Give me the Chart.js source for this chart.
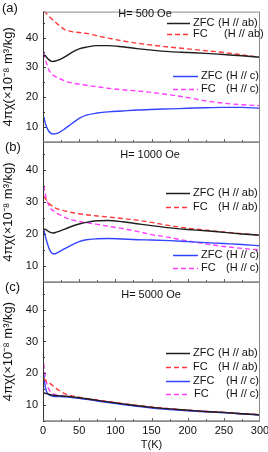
<!DOCTYPE html>
<html><head><meta charset="utf-8">
<script src="https://cdn.jsdelivr.net/npm/chart.js@4/dist/chart.umd.min.js"></script>
<style>
html,body{margin:0;padding:0;background:#fff;}
#wrap{position:relative;width:268px;height:452px;overflow:hidden;}
canvas{position:absolute;left:0;top:0;}
</style></head><body>
<div id="wrap">
<canvas id="ca" width="268" height="452"></canvas>
<canvas id="cb" width="268" height="452"></canvas>
<canvas id="cc" width="268" height="452"></canvas>
</div>
<script>
// ---- data ----
const temperatures = [1, 3, 5, 8, 11, 14, 18, 23, 30, 40, 50, 60, 75, 90, 110, 130, 150, 175, 200, 225, 250, 275, 300];
const yTicks = [10, 20, 30, 40];
const xTicks = [0, 50, 100, 150, 200, 250, 300];
const panelLabels = ['(a)', '(b)', '(c)'];
const fieldLabels = ['H= 500 Oe', 'H= 1000 Oe', 'H= 5000 Oe'];
const seriesModes = ['ZFC', 'FC', 'ZFC', 'FC'];
const seriesDirs = ['(H // ab)', '(H // ab)', '(H // c)', '(H // c)'];
const yTitle = '4\u03C0\u03C7(\u00D710\u207B\u2078 m\u00B3/kg)';
const xTitle = 'T(K)';

// panel (a) H = 500 Oe
const a_zfcAb = [33.8, 34.0, 33.4, 32.6, 32.1, 32.0, 32.2, 32.6, 33.5, 35.0, 36.2, 36.8, 37.3, 37.3, 36.9, 36.3, 35.8, 35.3, 35.0, 34.7, 34.3, 33.9, 33.4];
const a_fcAb  = [48.9, 48.5, 48.0, 47.2, 46.5, 45.9, 45.0, 43.9, 42.7, 42.0, 41.7, 41.4, 40.6, 39.8, 38.9, 38.1, 37.5, 36.8, 36.2, 35.6, 35.0, 34.2, 33.4];
const a_zfcC  = [13.5, 11.5, 10.0, 8.6, 7.9, 7.7, 7.8, 8.3, 9.4, 11.2, 12.9, 14.0, 14.7, 15.1, 15.4, 15.7, 15.9, 16.1, 16.3, 16.5, 16.6, 16.6, 16.3];
const a_fcC   = [34.9, 33.0, 31.4, 29.2, 28.1, 27.4, 26.8, 26.2, 25.5, 24.8, 24.4, 24.0, 23.5, 23.0, 22.5, 22.1, 21.6, 20.8, 19.9, 18.8, 18.0, 17.5, 17.2];
// panel (b) H = 1000 Oe
const b_zfcAb = [21.4, 21.5, 21.2, 20.7, 20.4, 20.3, 20.5, 20.9, 21.5, 22.4, 23.1, 23.6, 24.1, 24.2, 23.8, 23.2, 22.6, 21.9, 21.4, 21.0, 20.5, 20.0, 19.6];
const b_fcAb  = [31.7, 31.1, 30.5, 29.6, 29.0, 28.5, 28.0, 27.6, 27.2, 26.7, 26.3, 26.0, 25.6, 25.3, 24.8, 24.3, 23.6, 22.6, 21.8, 21.2, 20.6, 20.1, 19.6];
const b_zfcC  = [21.4, 19.5, 17.8, 15.7, 14.3, 13.8, 13.9, 14.5, 15.4, 16.6, 17.6, 18.2, 18.5, 18.6, 18.4, 18.2, 18.1, 17.9, 17.6, 17.3, 17.0, 16.7, 16.3];
const b_fcC   = [35.1, 32.5, 30.8, 29.0, 27.8, 27.3, 26.6, 26.0, 25.2, 24.4, 23.9, 23.5, 23.0, 22.4, 21.7, 20.8, 19.8, 18.9, 17.8, 16.9, 16.1, 15.5, 15.0];
// panel (c) H = 5000 Oe
const c_zfcAb = [13.9, 13.7, 13.6, 13.4, 13.2, 13.1, 13.0, 12.9, 12.8, 12.6, 12.3, 12.0, 11.5, 11.0, 10.4, 9.8, 9.3, 8.8, 8.4, 8.0, 7.7, 7.3, 6.9];
const c_fcAb  = [18.5, 17.8, 17.5, 17.1, 16.6, 16.0, 15.3, 14.5, 13.6, 12.9, 12.5, 12.1, 11.6, 11.1, 10.5, 9.9, 9.4, 8.9, 8.4, 8.0, 7.7, 7.3, 7.0];
const c_zfcC  = [19.5, 16.0, 14.2, 13.3, 13.0, 12.8, 12.7, 12.7, 12.6, 12.4, 12.1, 11.8, 11.3, 10.8, 10.2, 9.6, 9.1, 8.6, 8.2, 7.9, 7.6, 7.2, 6.9];
const c_fcC   = [23.0, 19.0, 17.0, 15.0, 14.0, 13.5, 13.2, 13.0, 12.8, 12.6, 12.3, 12.0, 11.5, 11.0, 10.4, 9.8, 9.3, 8.8, 8.4, 8.0, 7.7, 7.3, 7.0];

// ---- styling / layout ----
const FONT = '"Liberation Sans", Arial, sans-serif';
const styles = [
  {color: '#1e1e1e', dash: []},
  {color: '#ff3838', dash: [5, 3]},
  {color: '#3344ff', dash: []},
  {color: '#ff3cff', dash: [5, 3]}
];
const W = 268, H = 452;
const panels = [
  {id: 'ca', top: 3, bottom: 142, series: [a_zfcAb, a_fcAb, a_zfcC, a_fcC], label: 0, showX: false,
   labelPos: [2, 8], fieldPos: [145, 14],
   legend: [[23, 167, 190, 193, 218], [34, 167, 190, 193, 224], [76, 173, 198, 201, 226], [89, 173, 198, 201, 226]]},
  {id: 'cb', top: 142, bottom: 282, series: [b_zfcAb, b_fcAb, b_zfcC, b_fcC], label: 1, showX: false,
   labelPos: [5, 147], fieldPos: [150, 155],
   legend: [[193, 166, 190, 193, 218], [207, 166, 190, 193, 218], [255, 173, 198, 201, 226], [268, 173, 198, 201, 226]]},
  {id: 'cc', top: 282, bottom: 421, series: [c_zfcAb, c_fcAb, c_zfcC, c_fcC], label: 2, showX: true,
   labelPos: [5, 287], fieldPos: [151, 295],
   legend: [[353, 166, 190, 193, 218], [367, 166, 190, 193, 218], [381, 166, 190, 193, 226], [394, 166, 190, 194, 226]]}
];

const decoPlugin = {
  id: 'deco',
  afterDraw(chart, args, opts) {
    const P = opts.panel;
    const ctx = chart.ctx, a = chart.chartArea;
    const xs = chart.scales.x, ys = chart.scales.y;
    ctx.save();
    // frame
    ctx.lineWidth = 1;
    ctx.strokeStyle = '#8a8a8a';
    ctx.strokeRect(a.left + 0.5, a.top + 0.5, a.right - a.left - 1, a.bottom - a.top);
    ctx.strokeStyle = '#333';
    ctx.beginPath(); ctx.moveTo(a.left + 0.5, a.top); ctx.lineTo(a.left + 0.5, a.bottom); ctx.stroke();
    ctx.strokeStyle = '#888'; ctx.lineWidth = 1.5;
    ctx.beginPath(); ctx.moveTo(a.left, a.bottom); ctx.lineTo(a.right, a.bottom); ctx.stroke();
    // inward ticks
    ctx.lineWidth = 1; ctx.strokeStyle = '#333';
    for (let v = 5; v <= 45; v += 5) {
      const y = Math.round(ys.getPixelForValue(v)) + 0.5;
      const len = (v % 10 === 0) ? 3 : 2;
      ctx.beginPath(); ctx.moveTo(a.left, y); ctx.lineTo(a.left + len, y); ctx.stroke();
    }
    ctx.strokeStyle = '#666';
    for (let t = 25; t < 300; t += 25) {
      const x = Math.round(xs.getPixelForValue(t)) + 0.5;
      const len = (t % 50 === 0) ? 3 : 2;
      ctx.beginPath(); ctx.moveTo(x, a.bottom); ctx.lineTo(x, a.bottom - len); ctx.stroke();
    }
    // texts
    ctx.fillStyle = '#111';
    ctx.textBaseline = 'middle';
    ctx.font = '13px ' + FONT;
    ctx.textAlign = 'left';
    ctx.fillText(panelLabels[P.label], P.labelPos[0], P.labelPos[1]);
    ctx.font = '11px ' + FONT;
    ctx.textAlign = 'center';
    ctx.fillText(fieldLabels[P.label], P.fieldPos[0], P.fieldPos[1]);
    // legend
    ctx.textAlign = 'left';
    P.legend.forEach((L, i) => {
      const ds = chart.data.datasets[i];
      ctx.strokeStyle = ds.borderColor; ctx.lineWidth = 1.5;
      ctx.setLineDash(ds.borderDash || []);
      ctx.beginPath(); ctx.moveTo(L[1], L[0] + 0.5); ctx.lineTo(L[2], L[0] + 0.5); ctx.stroke();
      ctx.setLineDash([]);
      ctx.fillStyle = '#111';
      ctx.fillText(seriesModes[i], L[3], L[0]);
      ctx.fillText(seriesDirs[i], L[4], L[0]);
    });
    ctx.restore();
  }
};

panels.forEach(P => {
  const datasets = P.series.map((vals, i) => ({
    data: temperatures.map((t, k) => ({x: t, y: vals[k]})),
    borderColor: styles[i].color,
    borderDash: styles[i].dash,
    borderWidth: 1.4,
    pointRadius: 0,
    cubicInterpolationMode: 'monotone',
    fill: false
  }));
  new Chart(document.getElementById(P.id), {
    type: 'line',
    data: {datasets},
    options: {
      responsive: false, animation: false, devicePixelRatio: 1,
      layout: {padding: {top: P.top, right: 8, left: 0, bottom: P.showX ? 0 : H - P.bottom}},
      plugins: {legend: {display: false}, tooltip: {enabled: false}, deco: {panel: P}},
      scales: {
        x: {
          type: 'linear', min: 0, max: 300, display: P.showX,
          afterBuildTicks: s => { s.ticks = xTicks.map(v => ({value: v})); },
          afterFit: s => { if (P.showX) { s.height = H - P.bottom; s.paddingLeft = 0; s.paddingRight = 0; } },
          grid: {display: false, drawTicks: false}, border: {display: false},
          ticks: {color: '#111', font: {size: 11, family: FONT}, padding: 3, maxRotation: 0, autoSkip: false},
          title: {display: true, text: xTitle, color: '#111', font: {size: 11, family: FONT}, padding: {top: 3, bottom: 0}}
        },
        y: {
          type: 'linear', min: 5, max: 48.7,
          afterBuildTicks: s => { s.ticks = yTicks.map(v => ({value: v})); },
          afterFit: s => { s.width = 43; },
          grid: {display: false, drawTicks: false}, border: {display: false},
          ticks: {color: '#111', font: {size: 11, family: FONT}, padding: 5},
          title: {display: true, text: yTitle, color: '#111', font: {size: 13, family: FONT}, padding: {top: 1, bottom: 0}}
        }
      }
    },
    plugins: [decoPlugin]
  });
});
</script>
</body></html>
